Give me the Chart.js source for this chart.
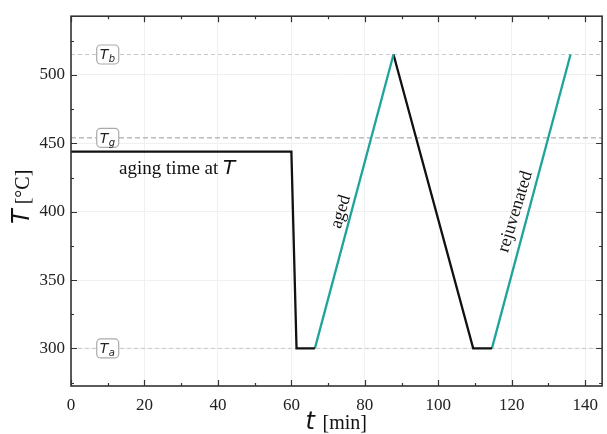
<!DOCTYPE html>
<html>
<head>
<meta charset="utf-8">
<script src="https://cdn.jsdelivr.net/npm/chart.js@4.4.1/dist/chart.umd.min.js"></script>
<style>
  html, body { margin: 0; padding: 0; background: #fff; }
  #wrap { width: 607px; height: 434px; }
</style>
</head>
<body>
<div id="wrap"><canvas id="chart" width="607" height="434"></canvas></div>
<script>
// temperature protocol, t in min, T in degC
var agingPath = [{x: 0, y: 444}, {x: 60, y: 444}, {x: 61.4, y: 300}, {x: 66.4, y: 300}];
var agedHeat = [{x: 66.4, y: 300}, {x: 87.8, y: 515}];
var coolPath = [{x: 87.8, y: 515}, {x: 109.5, y: 300}, {x: 114.6, y: 300}];
var rejuvHeat = [{x: 114.6, y: 300}, {x: 136, y: 515}];

var refNames = ['b', 'g', 'a'];
var refTemps = [515, 454, 300];

var xTicks = [0, 20, 40, 60, 80, 100, 120, 140];
var yTicks = [300, 350, 400, 450, 500];

var black = '#111111';
var teal = '#1fa39b';
var serif = '"Liberation Serif", "DejaVu Serif", serif';
var sans = '"DejaVu Sans", sans-serif';

function refLine(t, color, dash) {
    return {
        data: [{x: 0, y: t}, {x: 145, y: t}],
        borderColor: color,
        borderWidth: 1,
        borderDash: dash,
        pointRadius: 0,
        order: 5
    };
}

function pathSet(pts, color) {
    return {
        data: pts,
        borderColor: color,
        borderWidth: 2.3,
        pointRadius: 0,
        tension: 0,
        order: 1
    };
}

// frame, inward ticks, text labels and boxes
var decorPlugin = {
    id: 'decor',
    afterDatasetsDraw: function (chart) {
        var c = chart.ctx;
        var a = chart.chartArea;
        var xs = chart.scales.x, ys = chart.scales.y;
        c.save();

        // inward tick marks on all four sides
        c.strokeStyle = '#333';
        c.lineWidth = 1.2;
        for (var v = 0; v <= 145; v += 10) {
            var px = Math.round(xs.getPixelForValue(v)) + 0.5;
            var len = (v % 20 === 0) ? 6 : 3;
            c.beginPath();
            c.moveTo(px, a.bottom); c.lineTo(px, a.bottom - len);
            c.moveTo(px, a.top); c.lineTo(px, a.top + len);
            c.stroke();
        }
        for (var w = 275; w <= 543; w += 25) {
            var py = Math.round(ys.getPixelForValue(w)) + 0.5;
            var l2 = (w % 50 === 0) ? 6 : 3;
            c.beginPath();
            c.moveTo(a.left, py); c.lineTo(a.left + l2, py);
            c.moveTo(a.right, py); c.lineTo(a.right - l2, py);
            c.stroke();
        }

        // frame
        c.lineWidth = 1.6;
        c.strokeStyle = '#333';
        c.strokeRect(a.left, a.top, a.right - a.left, a.bottom - a.top);

        // reference temperature boxes
        refNames.forEach(function (n, i) {
            var cx = xs.getPixelForValue(10);
            var cy = ys.getPixelForValue(refTemps[i]);
            var bw = 22, bh = 19, r = 4;
            c.beginPath();
            c.roundRect(cx - bw / 2, cy - bh / 2, bw, bh, r);
            c.fillStyle = '#fff';
            c.fill();
            c.strokeStyle = '#aaa';
            c.lineWidth = 1.2;
            c.stroke();
            c.fillStyle = '#222';
            c.textBaseline = 'alphabetic';
            c.textAlign = 'left';
            c.font = 'italic 14px ' + sans;
            c.fillText('T', cx - 8, cy + 5);
            c.font = 'italic 10px ' + sans;
            c.fillText(n, cx + 1, cy + 8);
        });

        // aging label
        c.fillStyle = '#111';
        c.textBaseline = 'alphabetic';
        c.textAlign = 'left';
        var ax = xs.getPixelForValue(13.1), ay = ys.getPixelForValue(433) + 7;
        c.font = '19px ' + serif;
        c.fillText('aging time at ', ax, ay);
        var aw = c.measureText('aging time at ').width;
        c.font = 'italic 20px ' + sans;
        c.fillText('T', ax + aw, ay);

        // rotated labels along the heating ramps
        c.font = '18px ' + serif;
        c.textAlign = 'center';
        c.textBaseline = 'middle';
        [['aged', 73.5, 400], ['rejuvenated', 121, 400]].forEach(function (lb) {
            c.save();
            c.translate(xs.getPixelForValue(lb[1]), ys.getPixelForValue(lb[2]));
            c.rotate(-73 * Math.PI / 180);
            c.fillText(lb[0], 0, 0);
            c.restore();
        });

        // axis titles
        c.textAlign = 'left';
        c.textBaseline = 'alphabetic';
        var tx = xs.getPixelForValue(72) - 30, ty = 429;
        c.font = 'italic 24px ' + sans;
        c.fillText('t', tx, ty);
        var tw = c.measureText('t ').width;
        c.font = '20px ' + serif;
        c.fillText('[min]', tx + tw, ty);

        c.save();
        c.translate(29, 224);
        c.rotate(-Math.PI / 2);
        c.font = 'italic 24px ' + sans;
        c.fillText('T', 0, 0);
        var yw = c.measureText('T').width + 5;
        c.font = '20px ' + serif;
        c.fillText('[\u00b0C]', yw, 0);
        c.restore();

        c.restore();
    }
};

new Chart(document.getElementById('chart'), {
    type: 'line',
    data: {
        datasets: [
            refLine(refTemps[0], '#c8c8c8', [4, 3]),
            refLine(refTemps[1], '#9a9a9a', [5, 3]),
            refLine(refTemps[2], '#c8c8c8', [4, 3]),
            pathSet(agingPath, black),
            pathSet(agedHeat, teal),
            pathSet(coolPath, black),
            pathSet(rejuvHeat, teal)
        ]
    },
    options: {
        responsive: false,
        animation: false,
        layout: {padding: {top: 13, right: 1, left: 0, bottom: 0}},
        plugins: {legend: {display: false}, tooltip: {enabled: false}},
        scales: {
            x: {
                type: 'linear',
                min: 0,
                max: 144.6,
                afterBuildTicks: function (s) {
                    s.ticks = xTicks.map(function (v) { return {value: v}; });
                },
                afterFit: function (s) { s.height = 48; },
                grid: {color: '#f0f0f0', lineWidth: 1, drawTicks: false},
                border: {display: false},
                ticks: {
                    color: '#222',
                    padding: 9,
                    maxRotation: 0,
                    font: {family: serif, size: 17}
                }
            },
            y: {
                type: 'linear',
                min: 272.5,
                max: 543,
                afterBuildTicks: function (s) {
                    s.ticks = yTicks.map(function (v) { return {value: v}; });
                },
                afterFit: function (s) { s.width = 71; },
                grid: {color: '#f0f0f0', lineWidth: 1, drawTicks: false},
                border: {display: false},
                ticks: {
                    color: '#222',
                    padding: 6,
                    font: {family: serif, size: 17}
                }
            }
        }
    },
    plugins: [decorPlugin]
});
</script>
</body>
</html>
